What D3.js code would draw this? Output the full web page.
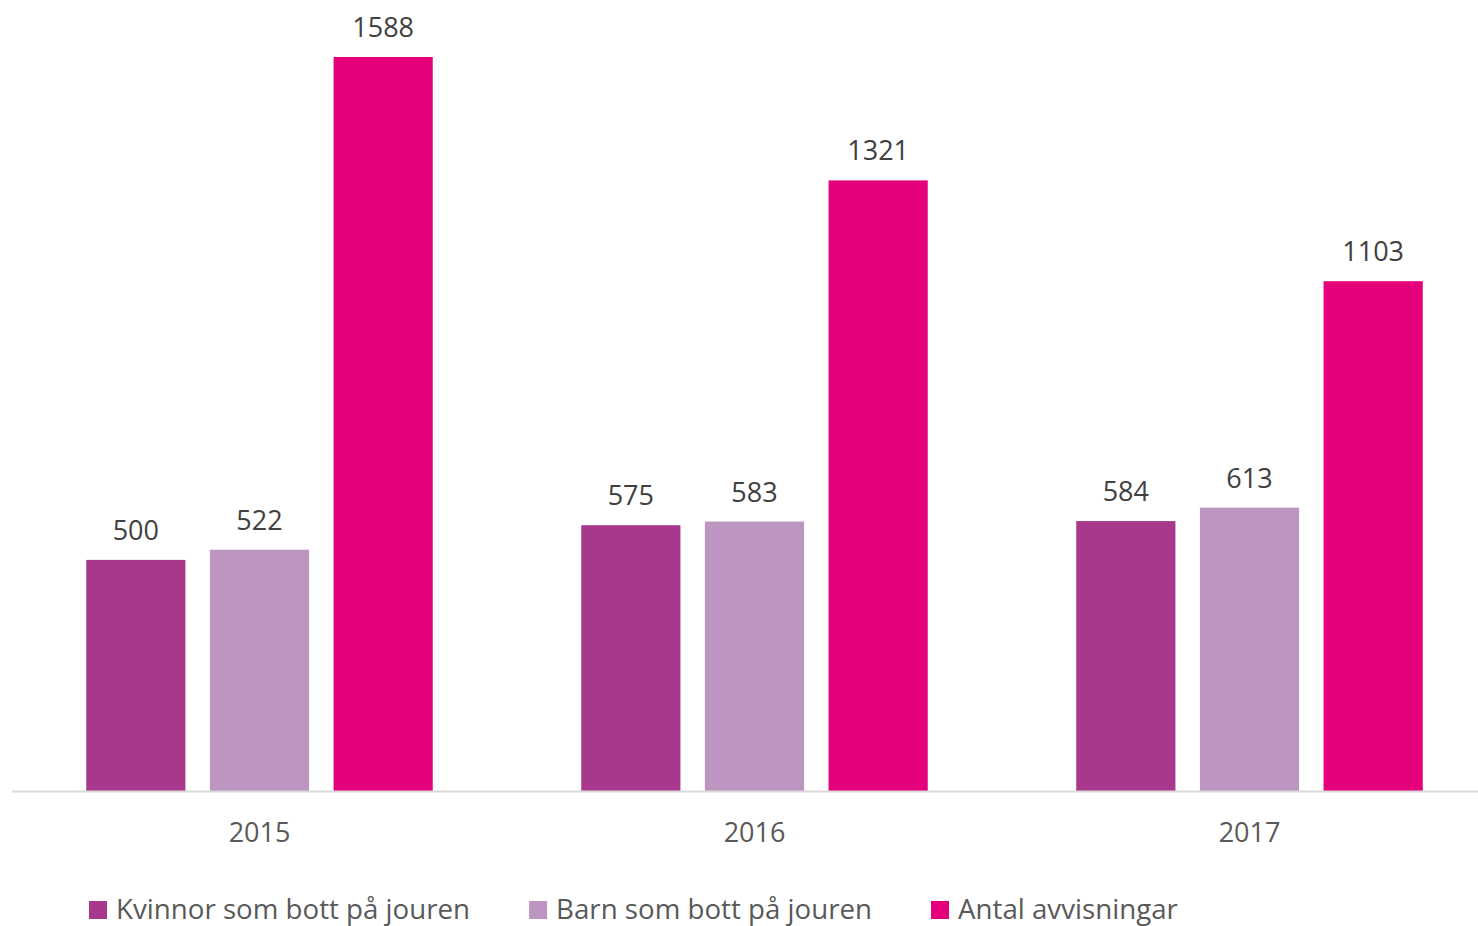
<!DOCTYPE html>
<html>
<head>
<meta charset="utf-8">
<script src="https://cdn.jsdelivr.net/npm/d3@7"></script>
<style>
  body { margin: 0; background: #fff; }
  svg { display: block; font-family: "Open Sans", sans-serif; }
</style>
</head>
<body>
<svg id="chart" width="1478" height="926"></svg>
<script>
var years = ["2015", "2016", "2017"];
var seriesNames = ["Kvinnor som bott på jouren", "Barn som bott på jouren", "Antal avvisningar"];
var kvinnor = [500, 575, 584];
var barn = [522, 583, 613];
var avvisningar = [1588, 1321, 1103];
var colors = ["#A8388B", "#BD95C1", "#E4007A"];

var series = [kvinnor, barn, avvisningar];

var svg = d3.select("svg#chart"),
    margin = { left: 12, right: -19, top: 57, bottom: 135 },
    width = +svg.attr("width"),
    height = +svg.attr("height");

var x0 = d3.scaleBand()
    .domain(years)
    .range([margin.left, width - margin.right])
    .paddingInner(0.3)
    .paddingOuter(0.15);

var x1 = d3.scaleBand()
    .domain(d3.range(series.length))
    .range([0, x0.bandwidth()])
    .paddingInner(0.198);

var y = d3.scaleLinear()
    .domain([0, d3.max(avvisningar)])
    .range([height - margin.bottom, margin.top]);

var groups = svg.append("g")
    .selectAll("g")
    .data(years)
    .enter().append("g")
    .attr("transform", function(d) { return "translate(" + x0(d) + ",0)"; });

var bars = groups.selectAll("g.bar")
    .data(function(d, i) {
        return series.map(function(s, k) { return { k: k, value: s[i] }; });
    })
    .enter().append("g")
    .attr("class", "bar");

bars.append("rect")
    .attr("x", function(d) { return x1(d.k); })
    .attr("y", function(d) { return y(d.value); })
    .attr("width", x1.bandwidth())
    .attr("height", function(d) { return y(0) - y(d.value); })
    .attr("fill", function(d) { return colors[d.k]; });

bars.append("text")
    .attr("x", function(d) { return x1(d.k) + x1.bandwidth() / 2; })
    .attr("y", function(d) { return y(d.value) - 20; })
    .attr("text-anchor", "middle")
    .attr("fill", "#404040")
    .style("font-size", "27px")
    .text(function(d) { return d.value; });

// x axis
var xAxis = svg.append("g")
    .attr("transform", "translate(0," + (y(0) + 0.5) + ")")
    .call(d3.axisBottom(x0).tickSize(0).tickPadding(31));

xAxis.select(".domain")
    .attr("d", "M" + margin.left + ",0H" + width)
    .attr("stroke", "#d9d9d9")
    .attr("stroke-width", 2);

xAxis.selectAll(".tick text")
    .attr("fill", "#595959")
    .style("font-family", "'Open Sans', sans-serif")
    .style("font-size", "27px");

// legend
var legend = svg.append("g").attr("transform", "translate(89,901)");
var lx = 0;
seriesNames.forEach(function(name, k) {
    var item = legend.append("g").attr("transform", "translate(" + lx + ",0)");
    item.append("rect")
        .attr("width", 18)
        .attr("height", 18)
        .attr("fill", colors[k]);
    var t = item.append("text")
        .attr("x", 27)
        .attr("y", 18)
        .attr("fill", "#595959")
        .style("font-size", "27.7px")
        .text(name);
    lx += 27 + t.node().getComputedTextLength() + 59;
});
</script>
</body>
</html>
